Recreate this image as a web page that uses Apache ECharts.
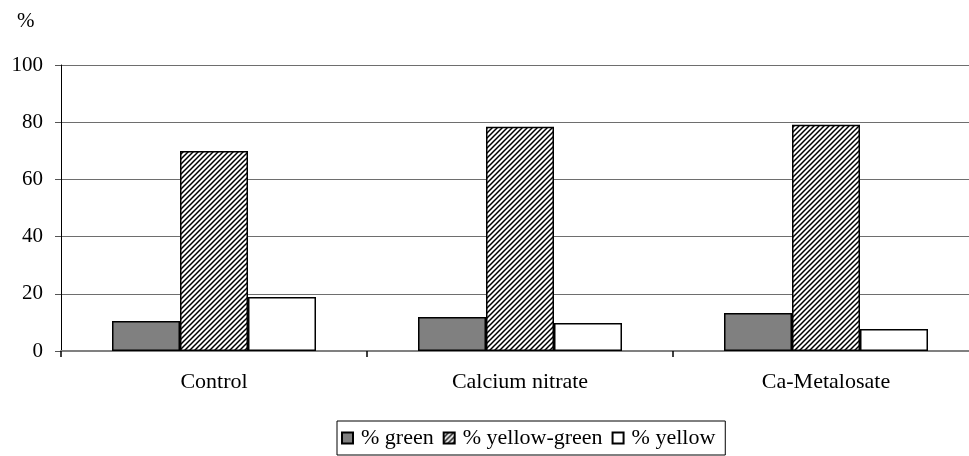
<!DOCTYPE html>
<html>
<head>
<meta charset="utf-8">
<script src="https://cdn.jsdelivr.net/npm/echarts@6/dist/echarts.min.js"></script>
<style>
  html, body { margin: 0; padding: 0; background: #fff; overflow: hidden; }
  /* the drawing is a bit wider than the window: the plot runs past the right edge */
  #chart { width: 980px; height: 456px; }
</style>
</head>
<body>
<div id="chart"></div>
<script>
// Leaf colour classes per treatment (percent of leaves)
const categories = ['Control', 'Calcium nitrate', 'Ca-Metalosate'];
const greenPct = [10.5, 11.9, 13.3];
const yellowGreenPct = [69.9, 78.4, 79.1];
const yellowPct = [18.9, 9.8, 7.7];
const yTicks = [0, 20, 40, 60, 80, 100];

const FONT = '"Liberation Serif", "Times New Roman", serif';

// diagonal hatch tile for the yellow-green series
function hatchTile() {
  const n = 5;
  const c = document.createElement('canvas');
  c.width = n; c.height = n;
  const g = c.getContext('2d');
  g.fillStyle = '#fff';
  g.fillRect(0, 0, n, n);
  g.strokeStyle = '#000';
  g.lineWidth = 1.5;
  g.beginPath();
  g.moveTo(-1, n + 1); g.lineTo(n + 1, -1);
  g.moveTo(-1, 1); g.lineTo(1, -1);
  g.moveTo(n - 1, n + 1); g.lineTo(n + 1, n - 1);
  g.stroke();
  return c;
}

const chart = echarts.init(document.getElementById('chart'), null, { renderer: 'canvas' });

const barBase = {
  type: 'bar',
  barWidth: 68,
  barGap: '0%',
  animation: false
};

chart.setOption({
  backgroundColor: '#fff',
  textStyle: { fontFamily: FONT },
  grid: { left: 61, right: 1, top: 65, height: 286 },
  legend: {
    left: 337,
    top: 421,
    icon: 'rect',
    itemWidth: 11,
    itemHeight: 11,
    itemGap: 9,
    padding: [6, 10, 6, 4],
    borderColor: '#000',
    borderWidth: 1,
    backgroundColor: '#fff',
    textStyle: { fontFamily: FONT, fontSize: 22, color: '#000', padding: [0, 0, 0, 3] },
    data: ['% green', '% yellow-green', '% yellow']
  },
  graphic: [{
    type: 'text',
    left: 17,
    top: 11,
    style: { text: '%', font: '21px ' + FONT, fill: '#000' }
  }],
  xAxis: {
    type: 'category',
    data: categories,
    axisLine: { lineStyle: { color: '#808080', width: 2 } },
    axisTick: { show: true, length: 6, lineStyle: { color: '#000', width: 1.5 } },
    axisLabel: { margin: 20, fontFamily: FONT, fontSize: 22, color: '#000' },
    splitLine: { show: false }
  },
  yAxis: {
    type: 'value',
    min: 0,
    max: 100,
    interval: 20,
    axisLine: { show: true, lineStyle: { color: '#000', width: 1 } },
    axisTick: { show: true, length: 6, lineStyle: { color: '#555' } },
    axisLabel: {
      margin: 18, fontFamily: FONT, fontSize: 21, color: '#000',
      formatter: v => (yTicks.includes(v) ? String(v) : '')
    },
    splitLine: { show: true, lineStyle: { color: '#6e6e6e', width: 1 } }
  },
  series: [
    Object.assign({}, barBase, {
      name: '% green',
      data: greenPct,
      itemStyle: { color: '#808080', borderColor: '#000', borderWidth: 1.5 }
    }),
    Object.assign({}, barBase, {
      name: '% yellow-green',
      data: yellowGreenPct,
      itemStyle: { color: { image: hatchTile(), repeat: 'repeat' }, borderColor: '#000', borderWidth: 1.5 }
    }),
    Object.assign({}, barBase, {
      name: '% yellow',
      data: yellowPct,
      itemStyle: { color: '#fff', borderColor: '#000', borderWidth: 1.5 }
    })
  ]
});
</script>
</body>
</html>
